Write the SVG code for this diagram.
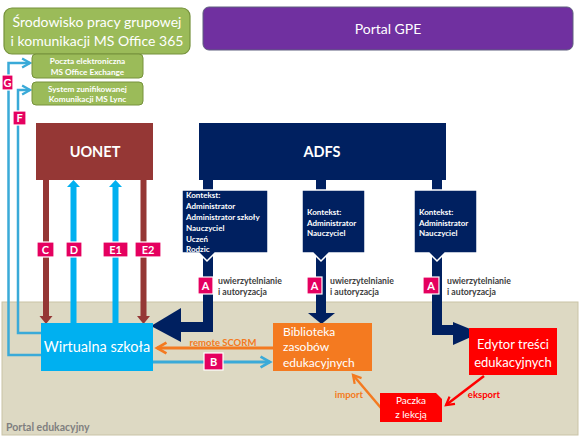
<svg xmlns="http://www.w3.org/2000/svg" width="581" height="438" viewBox="0 0 581 438">
<style>
text{font-family:Lato,"Liberation Sans",sans-serif;}
.w{fill:#fff;}
.b{font-weight:bold;}
.lab rect{fill:#E5005F;stroke:#fff;stroke-width:1.2;}
.lab text{fill:#fff;font-weight:bold;font-size:11px;text-anchor:middle;}
.ctx{fill:#002060;stroke:#fff;stroke-width:1.5;}
.ctxt{fill:#fff;font-weight:bold;font-size:8px;}
.auth{fill:#404040;font-weight:bold;font-size:8.7px;}
.navy{stroke:#002060;fill:none;stroke-width:10;}
.thin{fill:none;stroke:#3AAAD8;stroke-width:2.5;}
</style>
<defs>
<marker id="chevB" viewBox="0 0 10 10" refX="8" refY="5" markerWidth="4.5" markerHeight="4.5" orient="auto" markerUnits="strokeWidth">
<path d="M1,1 L8,5 L1,9" fill="none" stroke="#3AAAD8" stroke-width="2"/>
</marker>
<marker id="chevO" viewBox="0 0 10 10" refX="8" refY="5" markerWidth="4.5" markerHeight="4.5" orient="auto" markerUnits="strokeWidth">
<path d="M1,1 L8,5 L1,9" fill="none" stroke="#F47A20" stroke-width="2"/>
</marker>
<marker id="chevR" viewBox="0 0 10 10" refX="8" refY="5" markerWidth="4.5" markerHeight="4.5" orient="auto" markerUnits="strokeWidth">
<path d="M1,1 L8,5 L1,9" fill="none" stroke="#FF0000" stroke-width="2"/>
</marker>
</defs>

<g id="portal-edukacyjny">
<rect x="2" y="302" width="576" height="133" fill="#DDD9C3" stroke="#C9C3A6" stroke-width="1"/>
<text x="6" y="431" font-size="10.5" fill="#7F7F7F" class="b">Portal  edukacyjny</text>
</g>

<g id="connectors">
<path class="thin" d="M41,355 H8.5 V63 H30" marker-end="url(#chevB)"/>
<path class="thin" d="M41,333 H18 V90 H30" marker-end="url(#chevB)"/>
<line x1="46" y1="180" x2="46" y2="318" stroke="#953735" stroke-width="6"/>
<polygon points="39.5,316 52.5,316 46,324" fill="#953735"/>
<line x1="143.5" y1="180" x2="143.5" y2="318" stroke="#953735" stroke-width="6"/>
<polygon points="137,316 150,316 143.5,324" fill="#953735"/>
<line x1="73.5" y1="323" x2="73.5" y2="186" stroke="#00B0F0" stroke-width="6"/>
<polygon points="67,187 80,187 73.5,180" fill="#00B0F0"/>
<line x1="115.5" y1="323" x2="115.5" y2="186" stroke="#00B0F0" stroke-width="6"/>
<polygon points="109,187 122,187 115.5,180" fill="#00B0F0"/>
<path class="navy" d="M208,180 V327 H178"/>
<polygon points="181,308 151,326 181,342" fill="#002060"/>
<path class="navy" d="M321,180 V314"/>
<polygon points="308,313 335,313 321.5,324" fill="#002060"/>
<path class="navy" d="M437,180 V330 H456"/>
<polygon points="453,322 480,333 453,345" fill="#002060"/>
<line x1="273" y1="348" x2="157" y2="348" stroke="#F47A20" stroke-width="3" marker-end="url(#chevO)"/>
<text x="223" y="346" font-size="9.5" fill="#F47A20" class="b" text-anchor="middle">remote SCORM</text>
<line x1="153" y1="362" x2="270" y2="362" stroke="#3AAAD8" stroke-width="3" marker-end="url(#chevB)"/>
<line x1="381" y1="408" x2="353" y2="375" stroke="#F47A20" stroke-width="2.5" marker-end="url(#chevO)"/>
<text x="349" y="398" font-size="9.5" fill="#F47A20" class="b" text-anchor="middle">import</text>
<line x1="484" y1="376" x2="446" y2="405" stroke="#FF0000" stroke-width="2.5" marker-end="url(#chevR)"/>
<text x="484" y="398" font-size="9.5" fill="#FF0000" class="b" text-anchor="middle">eksport</text>
</g>

<g id="labels">
<g class="lab"><rect x="2" y="75" width="11" height="15"/><text x="7.5" y="86.5" font-size="10">G</text></g>
<g class="lab"><rect x="13" y="111" width="13" height="14"/><text x="19.5" y="122">F</text></g>
<g class="lab"><rect x="37" y="242" width="17" height="15"/><text x="45.5" y="253.5">C</text></g>
<g class="lab"><rect x="66" y="242" width="16" height="15"/><text x="74" y="253.5">D</text></g>
<g class="lab"><rect x="103" y="242" width="25" height="15"/><text x="115.5" y="253.5">E1</text></g>
<g class="lab"><rect x="135" y="242" width="26" height="15"/><text x="148" y="253.5">E2</text></g>
<g class="lab"><rect x="198" y="277" width="15" height="17"/><text x="205.5" y="290">A</text></g>
<g class="lab"><rect x="307" y="277" width="15" height="17"/><text x="314.5" y="290">A</text></g>
<g class="lab"><rect x="423" y="277" width="16" height="17"/><text x="431" y="290">A</text></g>
<g class="lab"><rect x="204" y="353" width="19" height="17"/><text x="213.5" y="366">B</text></g>
<text class="auth" x="218" y="284">uwierzytelnianie</text><text class="auth" x="218" y="295">i autoryzacja</text>
<text class="auth" x="330" y="284">uwierzytelnianie</text><text class="auth" x="330" y="295">i autoryzacja</text>
<text class="auth" x="447" y="284">uwierzytelnianie</text><text class="auth" x="447" y="295">i autoryzacja</text>
</g>

<g id="office365">
<rect x="4" y="8" width="186" height="46" rx="8" fill="#9BBB59" stroke="#76923C" stroke-width="1.2"/>
<text class="w" x="97" y="27" font-size="14" text-anchor="middle">Środowisko pracy grupowej</text>
<text class="w" x="97" y="46" font-size="14" text-anchor="middle">i komunikacji MS Office 365</text>
</g>
<g id="exchange">
<rect x="32" y="54" width="111" height="24" rx="4" fill="#9BBB59" stroke="#76923C" stroke-width="1"/>
<text class="w b" x="87.5" y="64" font-size="8.2" text-anchor="middle">Poczta elektroniczna</text>
<text class="w b" x="87.5" y="74.5" font-size="8.2" text-anchor="middle">MS Office Exchange</text>
</g>
<g id="lync">
<rect x="32" y="82" width="111" height="23" rx="4" fill="#9BBB59" stroke="#76923C" stroke-width="1"/>
<text class="w b" x="87.5" y="91.5" font-size="8.2" text-anchor="middle">System  zunifikowanej</text>
<text class="w b" x="87.5" y="102" font-size="8.2" text-anchor="middle">Komunikacji  MS Lync</text>
</g>
<g id="portal-gpe">
<rect x="203" y="7" width="370" height="43" rx="6" fill="#7030A0" stroke="#5F5F7F" stroke-width="1"/>
<text class="w" x="388" y="34" font-size="14" text-anchor="middle">Portal GPE</text>
</g>
<g id="uonet">
<rect x="36" y="123" width="117" height="57" fill="#953735"/>
<text class="w b" x="95" y="157" font-size="14.5" text-anchor="middle">UONET</text>
</g>
<g id="adfs">
<rect x="199" y="123" width="247" height="57" fill="#002060"/>
<text class="w b" x="322" y="157" font-size="14.5" text-anchor="middle">ADFS</text>
</g>
<g id="ctx1">
<path class="ctx" d="M182,190 H268 V253 H215 L207,261 L199,253 H182 Z"/>
<text class="ctxt" x="186" y="198">Kontekst:</text>
<text class="ctxt" x="186" y="208.5">Administrator</text>
<text class="ctxt" x="186" y="219.5">Administrator szkoły</text>
<text class="ctxt" x="186" y="230.5">Nauczyciel</text>
<text class="ctxt" x="186" y="241.5">Uczeń</text>
<text class="ctxt" x="186" y="252">Rodzic</text>
</g>
<g id="ctx2">
<path class="ctx" d="M302,190 H365 V253 H329 L321,261 L313,253 H302 Z"/>
<text class="ctxt" x="307" y="215">Kontekst:</text>
<text class="ctxt" x="307" y="225.5">Administrator</text>
<text class="ctxt" x="307" y="236">Nauczyciel</text>
</g>
<g id="ctx3">
<path class="ctx" d="M414,190 H477 V253 H445 L437,261 L429,253 H414 Z"/>
<text class="ctxt" x="419" y="215">Kontekst:</text>
<text class="ctxt" x="419" y="225.5">Administrator</text>
<text class="ctxt" x="419" y="236">Nauczyciel</text>
</g>
<g id="wirtualna-szkola">
<rect x="41" y="323" width="112" height="48" fill="#00B0F0"/>
<text class="w" x="97" y="352" font-size="14.5" text-anchor="middle">Wirtualna szkoła</text>
</g>
<g id="biblioteka">
<rect x="273" y="323" width="99" height="48" fill="#F47A20"/>
<text class="w" x="283" y="336" font-size="12">Biblioteka</text>
<text class="w" x="283" y="351" font-size="12">zasobów</text>
<text class="w" x="283" y="367" font-size="12">edukacyjnych</text>
</g>
<g id="edytor">
<rect x="469" y="328" width="88" height="47" fill="#FF0000"/>
<text class="w" x="513" y="349" font-size="13" text-anchor="middle">Edytor treści</text>
<text class="w" x="513" y="367" font-size="13" text-anchor="middle">edukacyjnych</text>
</g>
<g id="paczka">
<path d="M380,393 H436 L442,399 V422 H380 Z" fill="#FF0000"/>
<text class="w" x="411" y="404" font-size="10" text-anchor="middle">Paczka</text>
<text class="w" x="411" y="418" font-size="10" text-anchor="middle">z lekcją</text>
</g>
</svg>
